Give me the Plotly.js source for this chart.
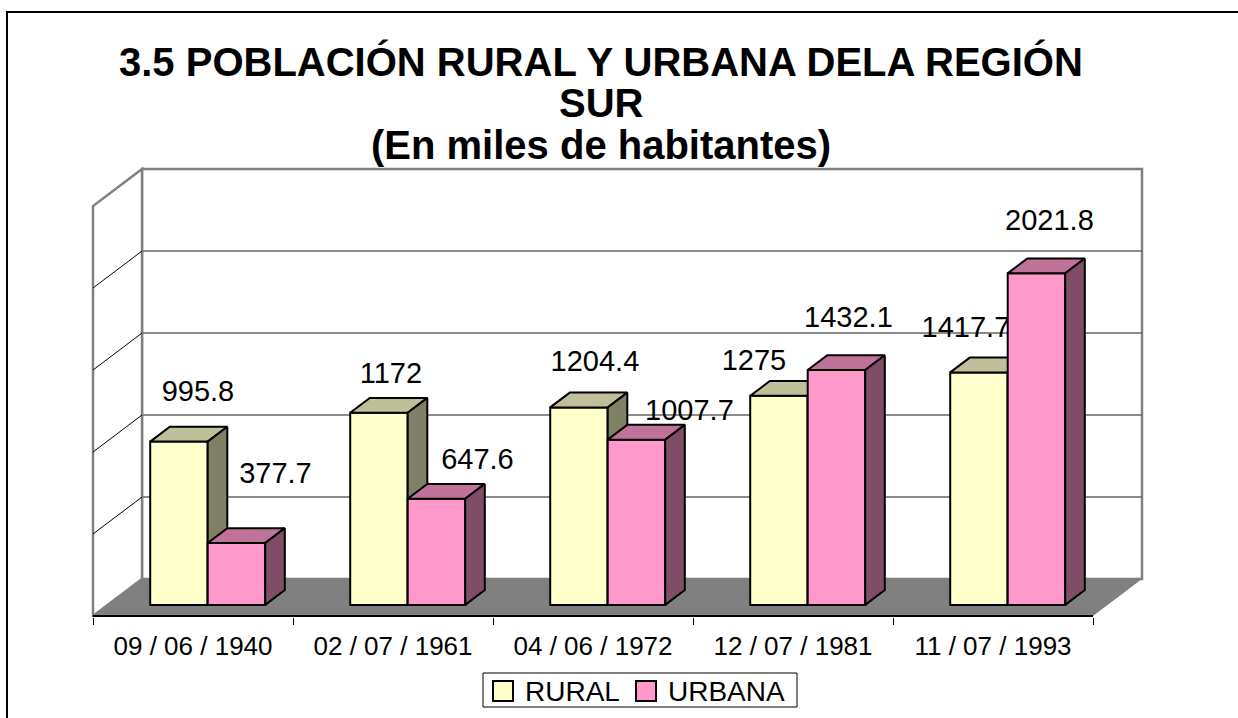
<!DOCTYPE html>
<html><head><meta charset="utf-8">
<script src="https://cdn.plot.ly/plotly-3.0.1.min.js"></script>
<style>html,body{margin:0;padding:0;background:#fff}#chart{width:1238px;height:718px}</style>
</head><body><div id="chart"></div>
<script>
// ---------------- data ----------------
const categories = ['09 / 06 / 1940', '02 / 07 / 1961', '04 / 06 / 1972', '12 / 07 / 1981', '11 / 07 / 1993'];
const ruralValues = [995.8, 1172, 1204.4, 1275, 1417.7];
const urbanaValues = [377.7, 647.6, 1007.7, 1432.1, 2021.8];
const seriesNames = ['RURAL', 'URBANA'];
const gridValues = [500, 1000, 1500, 2000];
const axisMax = 2500;
const titleLines = ['3.5 POBLACIÓN RURAL Y URBANA DELA REGIÓN', 'SUR', '(En miles de habitantes)'];

// ---------------- geometry / style ----------------
const FONT = 'Liberation Sans, Arial, sans-serif';
const W = 1238, H = 718;
const ML = 83, MR = 85, MT = 160, MB = 101;       // plot area margins (px)
const PX_PER_CAT = 200;                            // px per category unit
const PX_PER_VAL = 0.164;                          // px per value unit
const PLOT_H = H - MT - MB;
const X_RANGE = [-0.55, -0.55 + (W - ML - MR) / PX_PER_CAT];
const Y_RANGE = [-1 / PX_PER_VAL, (PLOT_H - 1) / PX_PER_VAL];
const FULL_DX = 49 / PX_PER_CAT;                   // oblique depth shift (x)
const FULL_DY = 37 / PX_PER_VAL;                   // oblique depth shift (y)
const BAR_FRONT = 0.3, BAR_BACK = 0.7;             // bar depth band
const BAR_W = 57.5 / PX_PER_CAT;
const COLORS = {
  rural:  {front: '#FFFFCC', top: '#BFBF99', side: '#808066'},
  urbana: {front: '#FF99CC', top: '#BF7399', side: '#804D66'}
};
// label nudges in px (dx right, dy up) relative to bar front-top centre
const labelNudge = {
  rural:  [[19, 51], [12, 40], [16, 47], [-25, 36], [-13, 46]],
  urbana: [[39, 70], [41, 40], [53, 30], [12, 53], [13, 54]]
};
const LABEL_DY_FIX = -3;   // text-box vs glyph centre correction (px)

const n = categories.length;
const idx = categories.map((_, i) => i);
const px2paperX = px => (px - ML) / (W - ML - MR);
const px2paperY = py => (H - MB - py) / PLOT_H;

const yb = BAR_FRONT * FULL_DY;
const bdx = (BAR_BACK - BAR_FRONT) * FULL_DX;
const bdy = (BAR_BACK - BAR_FRONT) * FULL_DY;

function faces(values, offset) {
  const top = {x: [], y: []}, side = {x: [], y: []};
  values.forEach((v, i) => {
    const x0 = i + BAR_FRONT * FULL_DX + offset, x1 = x0 + BAR_W, yt = yb + v;
    top.x.push(x0, x1, x1 + bdx, x0 + bdx, x0, null);
    top.y.push(yt, yt, yt + bdy, yt + bdy, yt, null);
    side.x.push(x1, x1 + bdx, x1 + bdx, x1, x1, null);
    side.y.push(yb, yb + bdy, yt + bdy, yt, yb, null);
  });
  return {top, side};
}

function seriesTraces(values, offset, col, nudges, xa, ya, name) {
  const f = faces(values, offset);
  const poly = (d, color) => ({
    type: 'scatter', mode: 'lines', x: d.x, y: d.y, fill: 'toself', fillcolor: color,
    line: {color: '#000', width: 2}, hoverinfo: 'skip', showlegend: false, xaxis: xa, yaxis: ya
  });
  return [
    {type: 'bar', name: name, x: idx, y: values, base: yb, width: BAR_W, offset: BAR_FRONT * FULL_DX + offset,
     marker: {color: col.front, line: {color: '#000', width: 2}}, showlegend: false, hoverinfo: 'y',
     xaxis: xa, yaxis: ya},
    poly(f.top, col.top),
    poly(f.side, col.side),
    {type: 'scatter', mode: 'text', showlegend: false, hoverinfo: 'skip', cliponaxis: false,
     x: values.map((v, i) => i + BAR_FRONT * FULL_DX + offset + BAR_W / 2 + nudges[i][0] / PX_PER_CAT),
     y: values.map((v, i) => yb + v + (nudges[i][1] + LABEL_DY_FIX) / PX_PER_VAL),
     text: values.map(v => String(v)), textposition: 'middle center',
     textfont: {family: FONT, size: 29, color: '#000'}, xaxis: xa, yaxis: ya}
  ];
}

const traces = [
  ...seriesTraces(ruralValues, -BAR_W, COLORS.rural, labelNudge.rural, 'x', 'y', seriesNames[0]),
  ...seriesTraces(urbanaValues, 0, COLORS.urbana, labelNudge.urbana, 'x2', 'y2', seriesNames[1])
];

// walls & floor
const L = -0.5, R = n - 0.5;
const shapes = [];
shapes.push({type: 'rect', xref: 'x', yref: 'y', layer: 'below',
  x0: L + FULL_DX, x1: R + FULL_DX, y0: FULL_DY, y1: FULL_DY + axisMax,
  fillcolor: '#FFFFFF', line: {color: '#808080', width: 2.5}});
gridValues.forEach(v => shapes.push({type: 'line', xref: 'x', yref: 'y', layer: 'below',
  x0: L + FULL_DX, x1: R + FULL_DX, y0: FULL_DY + v, y1: FULL_DY + v, line: {color: '#666666', width: 1.3}}));
shapes.push({type: 'path', xref: 'x', yref: 'y', layer: 'below',
  path: `M${L},0 L${L + FULL_DX},${FULL_DY} L${L + FULL_DX},${FULL_DY + axisMax} L${L},${axisMax} Z`,
  fillcolor: '#FFFFFF', line: {color: '#808080', width: 2.5}});
gridValues.forEach(v => shapes.push({type: 'line', xref: 'x', yref: 'y', layer: 'below',
  x0: L, x1: L + FULL_DX, y0: v, y1: FULL_DY + v, line: {color: '#000000', width: 1}}));
shapes.push({type: 'path', xref: 'x', yref: 'y', layer: 'below',
  path: `M${L},0 L${R},0 L${R + FULL_DX},${FULL_DY} L${L + FULL_DX},${FULL_DY} Z`,
  fillcolor: '#808080', line: {width: 0}});
shapes.push({type: 'line', xref: 'x', yref: 'y', layer: 'below',
  x0: L, x1: R, y0: 0, y1: 0, line: {color: '#000000', width: 2}});
// outer chart border (top and left edges; the others run off the picture)
shapes.push({type: 'line', xref: 'paper', yref: 'paper', layer: 'above',
  x0: px2paperX(6), x1: px2paperX(1250), y0: px2paperY(12), y1: px2paperY(12),
  line: {color: '#000000', width: 2}});
shapes.push({type: 'line', xref: 'paper', yref: 'paper', layer: 'above',
  x0: px2paperX(7), x1: px2paperX(7), y0: px2paperY(11), y1: px2paperY(730),
  line: {color: '#000000', width: 2}});

// legend (drawn in paper space so it does not change the plot margins)
const LEG = {x0: 483, x1: 797, y0: 673, y1: 707, yc: 691, items: [
  {sq: 493, tx: 523, col: COLORS.rural.front, name: seriesNames[0]},
  {sq: 636, tx: 666, col: COLORS.urbana.front, name: seriesNames[1]}]};
shapes.push({type: 'rect', xref: 'paper', yref: 'paper', layer: 'above',
  x0: px2paperX(LEG.x0), x1: px2paperX(LEG.x1), y0: px2paperY(LEG.y1), y1: px2paperY(LEG.y0),
  fillcolor: '#FFFFFF', line: {color: '#000000', width: 1}});
LEG.items.forEach(it => shapes.push({type: 'rect', xref: 'paper', yref: 'paper', layer: 'above',
  x0: px2paperX(it.sq), x1: px2paperX(it.sq + 20), y0: px2paperY(LEG.yc + 10), y1: px2paperY(LEG.yc - 10),
  fillcolor: it.col, line: {color: '#000000', width: 2}}));

const titleY = [62, 103, 145];
const annotations = titleLines.map((t, k) => ({
  xref: 'paper', yref: 'paper', x: px2paperX(601), y: px2paperY(titleY[k]),
  xanchor: 'center', yanchor: 'middle', showarrow: false,
  text: '<b>' + t + '</b>', font: {family: FONT, size: 40, color: '#000'}
}));
LEG.items.forEach(it => annotations.push({
  xref: 'paper', yref: 'paper', x: px2paperX(it.tx), y: px2paperY(LEG.yc),
  xanchor: 'left', yanchor: 'middle', showarrow: false,
  text: it.name, font: {family: FONT, size: 28, color: '#000'}
}));

const xaxisBase = {range: X_RANGE, fixedrange: true, showgrid: false, zeroline: false, showline: false};
const yaxisBase = {range: Y_RANGE, fixedrange: true, showgrid: false, zeroline: false, visible: false};

const layout = {
  width: W, height: H,
  margin: {l: ML, r: MR, t: MT, b: MB, pad: 0},
  paper_bgcolor: '#FFFFFF', plot_bgcolor: 'rgba(0,0,0,0)',
  font: {family: FONT, color: '#000'},
  showlegend: false,
  xaxis: Object.assign({}, xaxisBase, {
    tickmode: 'array', tickvals: idx, ticktext: categories, ticks: '',
    ticklabelstandoff: 11,
    tickfont: {family: FONT, size: 26, color: '#000'},
    minor: {tickmode: 'array', tickvals: idx.concat([n]).map(i => i - 0.5),
            ticks: 'outside', ticklen: 7, tickwidth: 1, tickcolor: '#000', showgrid: false}
  }),
  yaxis: yaxisBase,
  xaxis2: Object.assign({}, xaxisBase, {overlaying: 'x', anchor: 'y2', visible: false}),
  yaxis2: Object.assign({}, yaxisBase, {overlaying: 'y', anchor: 'x2'}),
  shapes, annotations, hovermode: false
};

Plotly.newPlot('chart', traces, layout, {displayModeBar: false, staticPlot: true});
</script></body></html>
